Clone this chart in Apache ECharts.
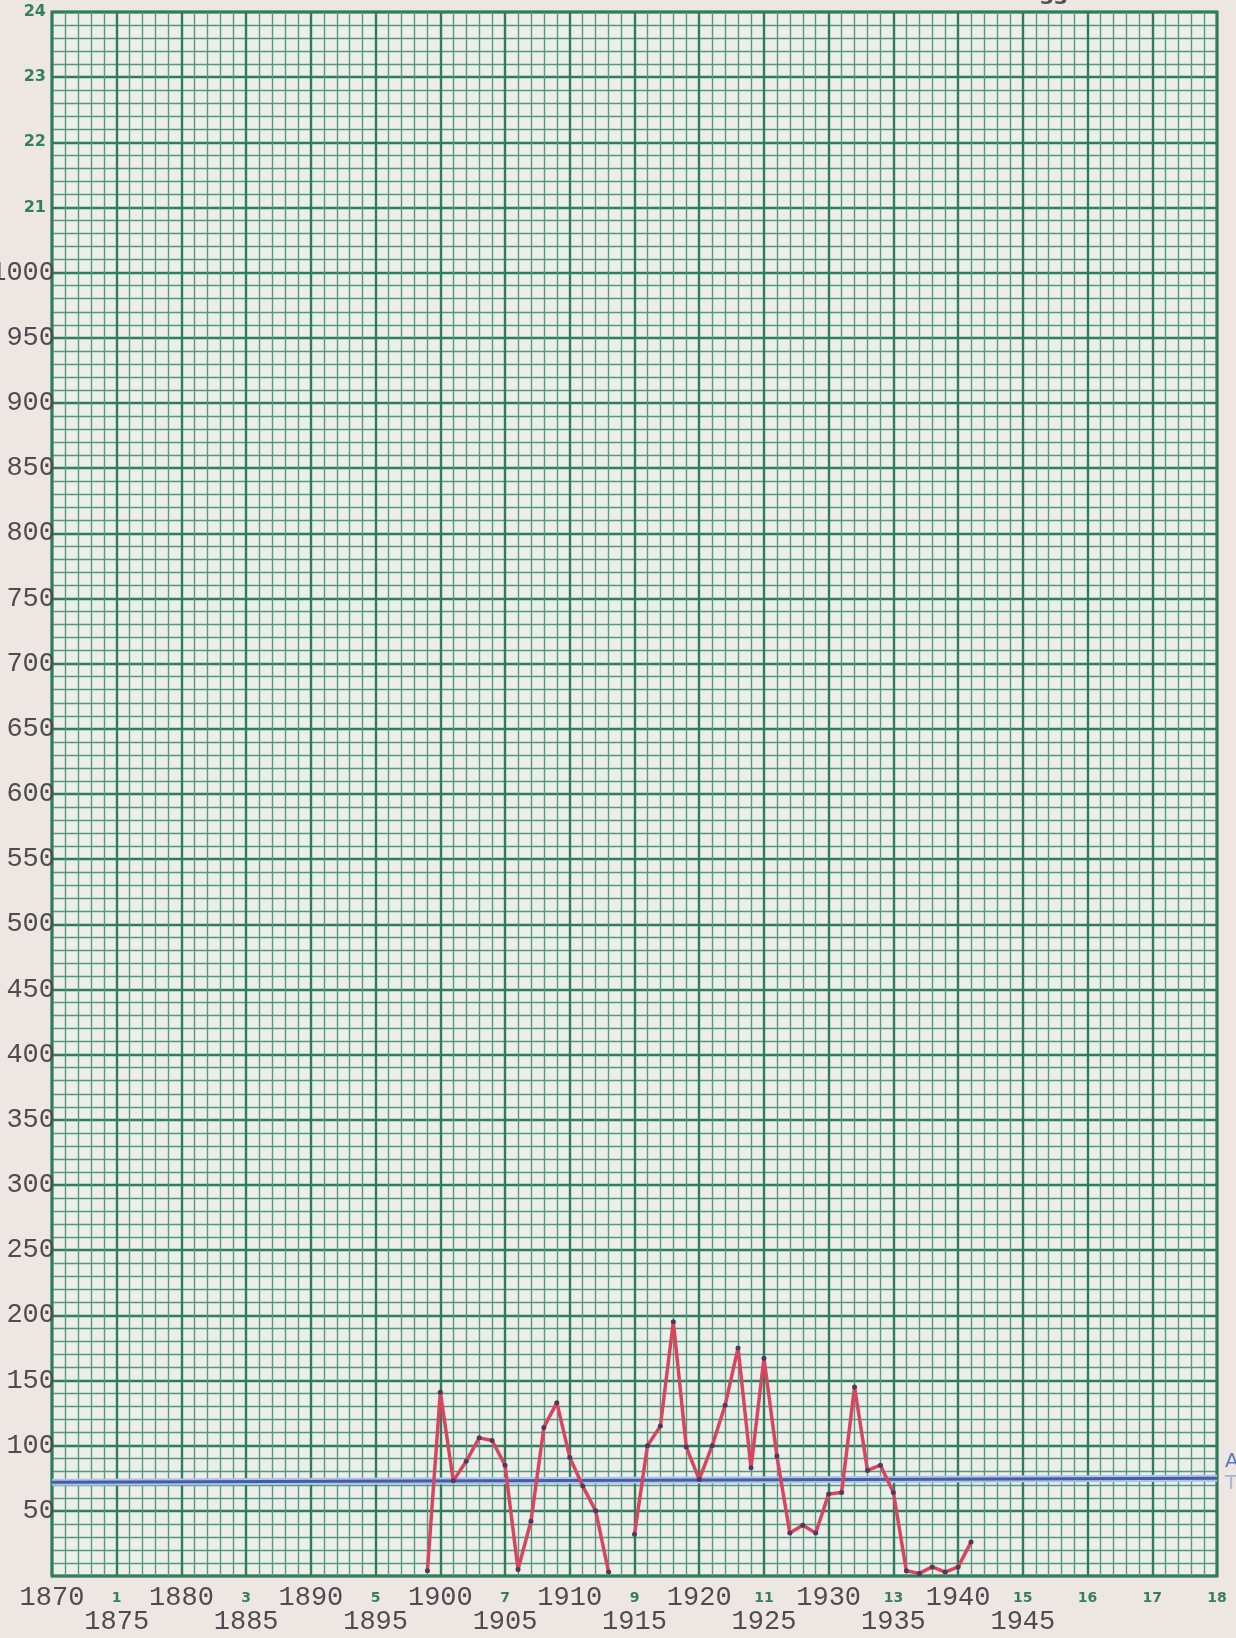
<!DOCTYPE html>
<html>
<head>
<meta charset="utf-8">
<title>chart</title>
<script src="https://cdn.jsdelivr.net/npm/echarts@6.0.0/dist/echarts.min.js"></script>
<style>
  html, body { margin: 0; padding: 0; background: #eee6e3; }
  #chart { width: 1236px; height: 1638px; }
</style>
</head>
<body>
<div id="chart"></div>
<script>
// years on the paper, 1914 has no point (gap in the pencil line)
const years = [1899, 1900, 1901, 1902, 1903, 1904, 1905, 1906, 1907, 1908, 1909, 1910, 1911, 1912, 1913,
  1914,
  1915, 1916, 1917, 1918, 1919, 1920, 1921, 1922, 1923, 1924, 1925, 1926, 1927, 1928, 1929, 1930,
  1931, 1932, 1933, 1934, 1935, 1936, 1937, 1938, 1939, 1940, 1941]
const counts = [4, 141, 73, 88, 106, 104, 85, 5, 42, 114, 133, 91, 69, 50, 3,
  null,
  32, 100, 115, 195, 99, 74, 100, 131, 175, 83, 167, 92, 33, 39, 33, 63,
  64, 145, 81, 85, 64, 4, 2, 7, 3, 7, 26]

// blue average line (ends)
const avgYears = [1870, 1960]
const avgValues = [72, 75]

// tick labels
const xMin = 1870
const xMax = 1960
const yMax = 1200
const paperNumsY = { 1050: '21', 1100: '22', 1150: '23', 1200: '24' }

const typed = '#4c4c52'
const green = '#347f5d'

const chart = echarts.init(document.getElementById('chart'))

const lineData = years.map((y, i) => [y, counts[i] === null ? '-' : counts[i]])
const avgData = avgYears.map((y, i) => [y, avgValues[i]])

chart.setOption({
  backgroundColor: '#eee6e3',
  animation: false,
  grid: {
    left: 52,
    right: 19,
    top: 12,
    bottom: 62,
    show: true,
    backgroundColor: '#eceee9',
    borderColor: '#2c7756',
    borderWidth: 3,
    containLabel: false,
    outerBoundsMode: 'none'
  },
  xAxis: [
    {
      type: 'value',
      min: xMin,
      max: xMax,
      interval: 5,
      axisLine: { show: false },
      axisTick: { show: false },
      splitLine: { show: true, lineStyle: { color: '#2f7d5c', width: 2.4 } },
      minorTick: { show: false, splitNumber: 5 },
      minorSplitLine: { show: true, lineStyle: { color: '#549880', width: 1.4 } },
      axisLabel: {
        showMinLabel: true,
        showMaxLabel: true,
        margin: 10,
        formatter: (v) => {
          const k = Math.round((v - xMin) / 5)
          if (k % 2 === 0 && k <= 14) return '{t|' + v + '}'
          return '{g|' + k + '}'
        },
        rich: {
          t: { fontFamily: 'Liberation Mono', fontSize: 27, color: typed, lineHeight: 24 },
          g: { fontFamily: 'DejaVu Sans', fontWeight: 'bold', fontSize: 14, color: green, lineHeight: 24 }
        }
      }
    },
    {
      // second typed row
      type: 'value',
      gridIndex: 0,
      position: 'bottom',
      min: xMin,
      max: xMax,
      interval: 5,
      axisLine: { show: false },
      axisTick: { show: false },
      splitLine: { show: false },
      axisLabel: {
        showMinLabel: true,
        showMaxLabel: true,
        margin: 34,
        fontFamily: 'Liberation Mono',
        fontSize: 27,
        lineHeight: 24,
        color: typed,
        formatter: (v) => {
          const k = Math.round((v - xMin) / 5)
          return (k % 2 === 1 && k <= 15) ? String(v) : ''
        }
      }
    }
  ],
  yAxis: [
    {
      type: 'value',
      min: 0,
      max: yMax,
      interval: 50,
      axisLine: { show: false },
      axisTick: { show: false },
      splitLine: { show: true, lineStyle: { color: '#2f7d5c', width: 2.4 } },
      minorTick: { show: false, splitNumber: 5 },
      minorSplitLine: { show: true, lineStyle: { color: '#549880', width: 1.4 } },
      axisLabel: {
        margin: -3,
        fontFamily: 'Liberation Mono',
        fontSize: 27,
        color: typed,
        formatter: (v) => (v > 0 && v <= 1000) ? String(v) : ''
      }
    },
    {
      // numbers printed on the paper above 1000
      type: 'value',
      gridIndex: 0,
      position: 'left',
      min: 0,
      max: yMax,
      interval: 50,
      axisLine: { show: false },
      axisTick: { show: false },
      splitLine: { show: false },
      axisLabel: {
        margin: 6,
        fontFamily: 'DejaVu Sans',
        fontWeight: 'bold',
        fontSize: 16,
        color: green,
        formatter: (v) => paperNumsY[v] || ''
      }
    }
  ],
  series: [
    {
      type: 'line',
      data: avgData,
      symbol: 'none',
      silent: true,
      lineStyle: { color: '#b3c2e4', width: 7 },
      z: 3
    },
    {
      type: 'line',
      data: avgData,
      symbol: 'none',
      silent: true,
      lineStyle: { color: '#3f5fa9', width: 3 },
      z: 4
    },
    {
      type: 'line',
      data: lineData,
      connectNulls: false,
      symbol: 'circle',
      symbolSize: 5,
      itemStyle: { color: '#4d3a5c' },
      lineStyle: { color: '#d8455f', width: 3.5 },
      z: 5
    }
  ],
  graphic: [
    { type: 'text', x: 1040, y: -11, style: { text: '33', font: 'bold 20px DejaVu Sans', fill: '#555' } },
    { type: 'text', x: 1225, y: 1452, style: { text: 'A', font: '20px DejaVu Sans', fill: '#5b78b8' } },
    { type: 'text', x: 1225, y: 1474, style: { text: 'T', font: '20px DejaVu Sans', fill: '#a6b5da' } }
  ]
})
</script>
</body>
</html>
